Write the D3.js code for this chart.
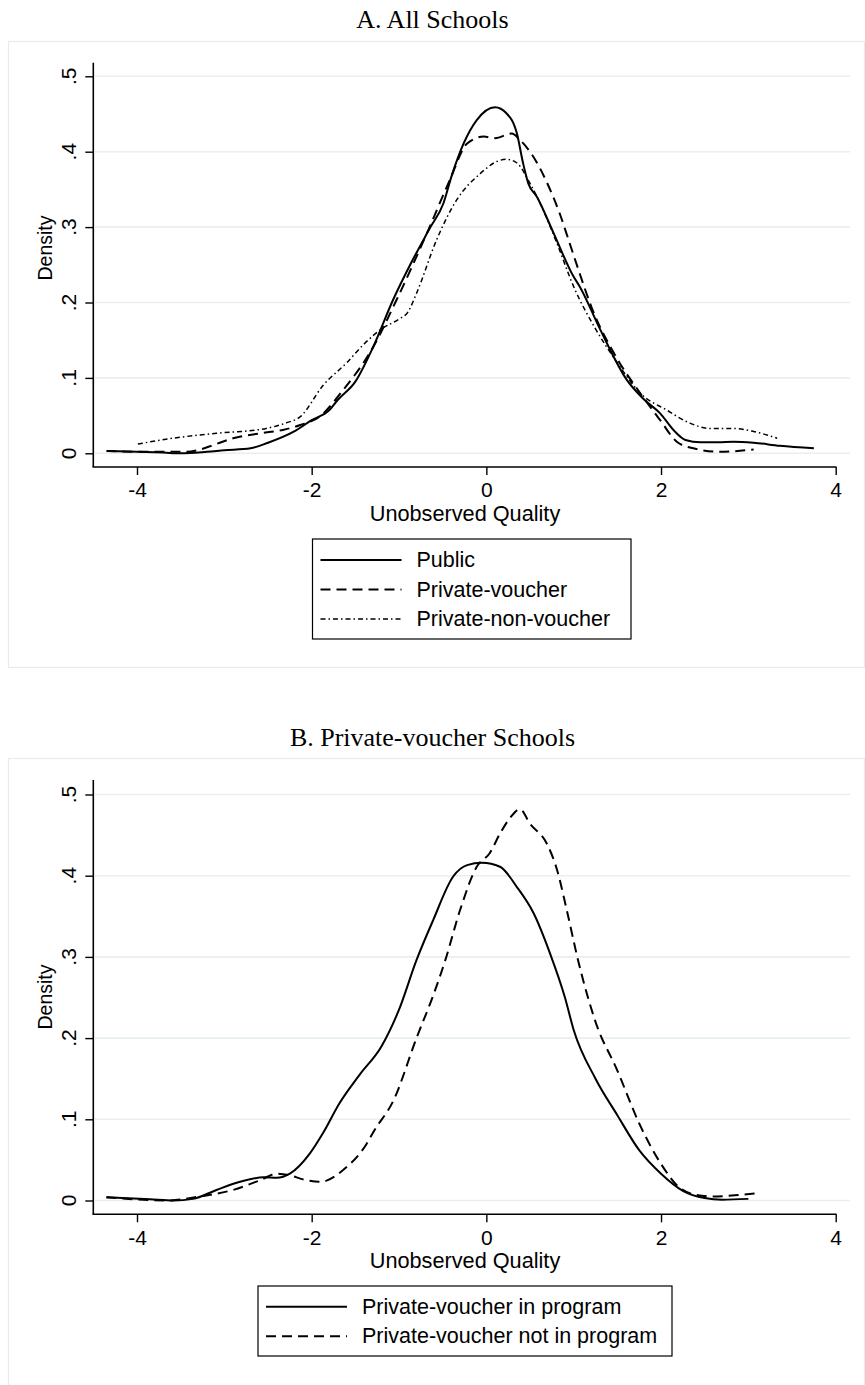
<!DOCTYPE html>
<html>
<head>
<meta charset="utf-8">
<script src="https://cdn.jsdelivr.net/npm/d3@7"></script>
<style>
  html, body { margin: 0; padding: 0; background: #fff; }
  svg { display: block; }
  .sans { font-family: "Liberation Sans", Arial, Helvetica, sans-serif; fill: #000; }
  .serif { font-family: "Liberation Serif", "Times New Roman", serif; fill: #000; }
</style>
</head>
<body>
<svg id="chart" width="865" height="1385"></svg>
<script>
// Axis ticks shared by both panels
const xTicks = [-4, -2, 0, 2, 4];
const xTickLabels = ["-4", "-2", "0", "2", "4"];
const yTicks = [0, 0.1, 0.2, 0.3, 0.4, 0.5];
const yTickLabels = ["0", ".1", ".2", ".3", ".4", ".5"];

// Panel A: kernel density of unobserved quality by school type
const publicX = [-4.33, -4.0, -3.7, -3.5, -3.2, -3.0, -2.7, -2.5, -2.2, -2.0, -1.8, -1.7, -1.5, -1.3, -1.07, -0.85, -0.64, -0.49, -0.40, -0.26, -0.11, 0.10, 0.23, 0.35, 0.42, 0.48, 0.58, 0.77, 1.0, 1.07, 1.3, 1.61, 1.8, 1.99, 2.15, 2.28, 2.45, 2.65, 2.83, 3.06, 3.36, 3.75];
const publicY = [0.003, 0.002, 0.001, 0.0, 0.002, 0.004, 0.0066, 0.014, 0.029, 0.044, 0.057, 0.071, 0.095, 0.14, 0.203, 0.255, 0.30, 0.332, 0.367, 0.411, 0.442, 0.459, 0.451, 0.424, 0.385, 0.358, 0.340, 0.292, 0.234, 0.221, 0.165, 0.097, 0.072, 0.053, 0.030, 0.0177, 0.0146, 0.0145, 0.0154, 0.014, 0.010, 0.0066];

const voucherX = [-4.35, -3.85, -3.43, -3.28, -3.1, -2.9, -2.59, -2.33, -2.13, -1.91, -1.64, -1.3, -1.03, -0.68, -0.42, -0.22, -0.03, 0.10, 0.29, 0.39, 0.54, 0.69, 0.84, 0.95, 1.05, 1.2, 1.5, 1.76, 1.99, 2.18, 2.37, 2.68, 3.06];
const voucherY = [0.003, 0.002, 0.002, 0.005, 0.012, 0.02, 0.0265, 0.031, 0.0375, 0.0486, 0.084, 0.14, 0.203, 0.292, 0.362, 0.411, 0.42, 0.418, 0.424, 0.415, 0.393, 0.360, 0.318, 0.28, 0.245, 0.195, 0.125, 0.080, 0.044, 0.0154, 0.0066, 0.002, 0.005];

const nonVoucherX = [-3.99, -3.59, -3.09, -2.52, -2.3, -2.13, -1.87, -1.6, -1.4, -1.2, -1.0, -0.9, -0.8, -0.57, -0.34, -0.07, 0.12, 0.23, 0.35, 0.50, 0.65, 0.81, 1.0, 1.25, 1.5, 1.76, 2.07, 2.33, 2.56, 2.83, 3.06, 3.33];
const nonVoucherY = [0.0123, 0.02, 0.0265, 0.033, 0.04, 0.0486, 0.09, 0.12, 0.145, 0.165, 0.178, 0.187, 0.212, 0.283, 0.336, 0.371, 0.387, 0.39, 0.385, 0.358, 0.323, 0.278, 0.221, 0.165, 0.12, 0.08, 0.057, 0.04, 0.033, 0.033, 0.029, 0.02];

// Panel B: private-voucher schools in and out of the program
const inProgramX = [-4.35, -3.85, -3.58, -3.36, -3.09, -2.82, -2.55, -2.40, -2.25, -2.02, -1.87, -1.68, -1.45, -1.2, -1.0, -0.8, -0.61, -0.38, -0.22, -0.05, 0.157, 0.35, 0.54, 0.73, 0.9, 1.0, 1.25, 1.5, 1.75, 2.0, 2.25, 2.5, 2.7, 3.0];
const inProgramY = [0.004, 0.0015, 0.0, 0.002, 0.013, 0.023, 0.0286, 0.028, 0.033, 0.058, 0.083, 0.12, 0.155, 0.19, 0.235, 0.296, 0.345, 0.399, 0.413, 0.416, 0.411, 0.386, 0.354, 0.304, 0.25, 0.21, 0.15, 0.105, 0.062, 0.033, 0.012, 0.003, 0.001, 0.002];

const notInProgramX = [-4.35, -3.66, -3.28, -2.9, -2.59, -2.4, -2.25, -2.1, -1.91, -1.83, -1.64, -1.37, -1.29, -1.06, -0.8, -0.6, -0.47, -0.30, -0.11, 0.04, 0.157, 0.27, 0.385, 0.50, 0.69, 0.81, 0.92, 1.05, 1.25, 1.5, 1.75, 2.0, 2.2, 2.4, 2.6, 2.9, 3.1];
const notInProgramY = [0.004, 0.0, 0.005, 0.013, 0.025, 0.033, 0.031, 0.026, 0.023, 0.0245, 0.0375, 0.07, 0.085, 0.124, 0.2, 0.255, 0.296, 0.358, 0.411, 0.428, 0.452, 0.471, 0.482, 0.464, 0.44, 0.407, 0.358, 0.296, 0.22, 0.16, 0.095, 0.045, 0.017, 0.007, 0.005, 0.007, 0.009];

const zip = (xs, ys) => xs.map((x, i) => [x, ys[i]]);

// Line patterns for the three styles used
const styles = {
  solid:   { dash: null,        width: 2.0 },
  dash:    { dash: "10,6",      width: 2.0 },
  dashdot: { dash: "5,3,1.5,3", width: 1.5 }
};

const svg = d3.select("#chart");
const gridColor = "#e7eff2";
const frameColor = "#e4ecef";

const x = d3.scaleLinear().domain([-4, 4]).range([137, 835.7]);

function drawPanel(p) {
  const g = svg.append("g");

  // Outer light frame of the graph region
  g.append("rect")
    .attr("x", 8.5).attr("y", p.frameTop + 0.5)
    .attr("width", 856).attr("height", p.frameBottom - p.frameTop)
    .attr("fill", "none").attr("stroke", frameColor).attr("stroke-width", 1.2);

  // Title
  g.append("text").attr("class", "serif")
    .attr("x", 432.5).attr("y", p.titleY)
    .attr("text-anchor", "middle")
    .attr("font-size", 26)
    .text(p.title);

  const y = d3.scaleLinear().domain([0, 0.5]).range([p.y0, p.y5]);

  // Horizontal grid lines
  g.append("g").selectAll("line").data(yTicks).join("line")
    .attr("x1", 95).attr("x2", 850)
    .attr("y1", d => y(d)).attr("y2", d => y(d))
    .attr("stroke", gridColor).attr("stroke-width", 1.6);

  // Density curves
  const line = d3.line().x(d => x(d[0])).y(d => y(d[1])).curve(d3.curveMonotoneX);
  p.series.forEach(s => {
    const st = styles[s.style];
    g.append("path")
      .datum(zip(s.xs, s.ys))
      .attr("d", line)
      .attr("fill", "none")
      .attr("stroke", "#000")
      .attr("stroke-width", st.width)
      .attr("stroke-dasharray", st.dash)
      .attr("stroke-linejoin", "round");
  });

  // Y axis
  const yAxis = d3.axisLeft(y).tickValues(yTicks).tickSize(8).tickSizeOuter(0)
    .tickFormat((d, i) => yTickLabels[i]);
  const ya = g.append("g").attr("transform", "translate(93.3,0)").call(yAxis);
  ya.select(".domain").remove();
  ya.selectAll(".tick line").attr("stroke", "#000").attr("stroke-width", 1.4);
  ya.selectAll(".tick text").remove();
  g.append("line").attr("x1", 93.3).attr("x2", 93.3)
    .attr("y1", p.axisTop).attr("y2", p.axisBottom)
    .attr("stroke", "#000").attr("stroke-width", 1.6);
  g.append("g").selectAll("text").data(yTicks).join("text")
    .attr("class", "sans")
    .attr("font-size", 21)
    .attr("text-anchor", "middle")
    .attr("dominant-baseline", "central")
    .attr("transform", d => `translate(68,${y(d)}) rotate(-90)`)
    .text((d, i) => yTickLabels[i]);

  // X axis
  const xAxis = d3.axisBottom(x).tickValues(xTicks).tickSize(8).tickSizeOuter(0)
    .tickFormat((d, i) => xTickLabels[i]);
  const xa = g.append("g").attr("transform", `translate(0,${p.axisBottom})`).call(xAxis);
  xa.select(".domain").remove();
  xa.selectAll(".tick line").attr("stroke", "#000").attr("stroke-width", 1.4);
  xa.selectAll(".tick text")
    .attr("class", "sans")
    .attr("font-family", null)
    .attr("font-size", 21)
    .attr("fill", "#000")
    .attr("y", 23)
    .attr("dy", "0.35em");
  g.append("line").attr("x1", 92.5).attr("x2", 836.5)
    .attr("y1", p.axisBottom).attr("y2", p.axisBottom)
    .attr("stroke", "#000").attr("stroke-width", 1.6);

  // Axis titles
  g.append("text").attr("class", "sans")
    .attr("x", 465).attr("y", p.axisBottom + 46)
    .attr("text-anchor", "middle").attr("dominant-baseline", "central")
    .attr("font-size", 21.7)
    .text("Unobserved Quality");
  g.append("text").attr("class", "sans")
    .attr("font-size", 19.5)
    .attr("text-anchor", "middle").attr("dominant-baseline", "central")
    .attr("transform", `translate(45,${p.densityY}) rotate(-90)`)
    .text("Density");

  // Legend
  const L = p.legend;
  g.append("rect")
    .attr("x", L.x).attr("y", L.y).attr("width", L.w).attr("height", L.h)
    .attr("fill", "#fff").attr("stroke", "#000").attr("stroke-width", 1.2);
  p.series.forEach((s, i) => {
    const st = styles[s.style];
    const ry = L.firstRow + i * L.rowGap;
    g.append("line")
      .attr("x1", L.x + 8).attr("x2", L.x + 89)
      .attr("y1", ry).attr("y2", ry)
      .attr("stroke", "#000").attr("stroke-width", st.width)
      .attr("stroke-dasharray", st.dash);
    g.append("text").attr("class", "sans")
      .attr("x", L.x + 104).attr("y", ry)
      .attr("dominant-baseline", "central")
      .attr("font-size", 21.5)
      .text(s.name);
  });
}

drawPanel({
  title: "A. All Schools", titleY: 28,
  frameTop: 41, frameBottom: 667,
  y0: 453.3, y5: 76.3, axisTop: 62.7, axisBottom: 467, densityY: 248,
  legend: { x: 312.5, y: 539, w: 318.5, h: 100, firstRow: 560, rowGap: 29.5 },
  series: [
    { name: "Public", style: "solid", xs: publicX, ys: publicY },
    { name: "Private-voucher", style: "dash", xs: voucherX, ys: voucherY },
    { name: "Private-non-voucher", style: "dashdot", xs: nonVoucherX, ys: nonVoucherY }
  ]
});

drawPanel({
  title: "B. Private-voucher Schools", titleY: 746,
  frameTop: 758, frameBottom: 1400,
  y0: 1200.5, y5: 794.5, axisTop: 780, axisBottom: 1214.3, densityY: 997,
  legend: { x: 258, y: 1286, w: 414, h: 70, firstRow: 1306.7, rowGap: 29.5 },
  series: [
    { name: "Private-voucher in program", style: "solid", xs: inProgramX, ys: inProgramY },
    { name: "Private-voucher not in program", style: "dash", xs: notInProgramX, ys: notInProgramY }
  ]
});
</script>
</body>
</html>
